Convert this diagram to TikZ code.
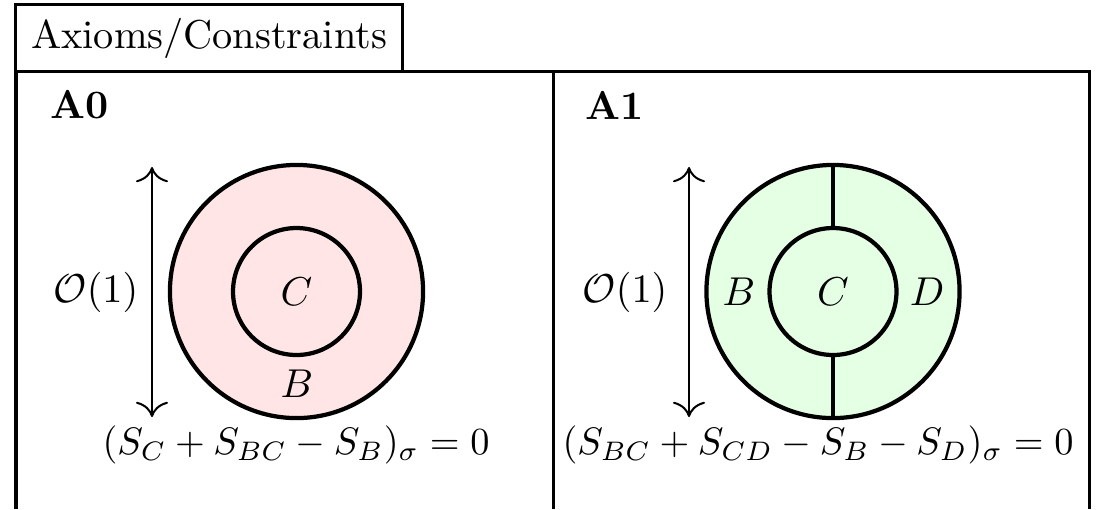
\documentclass[tikz,border=0pt]{standalone}
\usetikzlibrary{arrows.meta}
\definecolor{pinkfill}{RGB}{255,229,229}
\definecolor{greenfill}{RGB}{229,255,229}
\begin{document}
\begin{tikzpicture}[x=0.2481pt,y=-0.2481pt,
  frame/.style={line width=0.75pt},
  ring/.style={line width=1.05pt},
  sizearrow/.style={{To[scale=1.4]}-{To[scale=1.4]},line width=0.5pt},
  lbl/.style={inner sep=0pt},
  eqlbl/.style={inner sep=0pt,scale=0.95}]
\useasboundingbox (0,0) rectangle (1100,509);
% title
\node[draw,frame,minimum width=95.8pt,minimum height=16.4pt,inner sep=0pt] (title) at (209,38) {Axioms/Constraints};
% frame
\coordinate (fl) at (16,509);
\coordinate (ftl) at (16,71);
\coordinate (ftr) at (1089,71);
\coordinate (fr) at (1089,509);
\coordinate (mt) at (553,71);
\coordinate (mb) at (553,509);
\draw[frame] (fl) -- (ftl) -- (ftr) -- (fr);
\draw[frame] (mt) -- (mb);
% A0
\node[lbl] (a0) at (80,105) {\textbf{A0}};
\coordinate (c0) at (296.5,291.5);
\fill[pinkfill] (c0) circle[radius=31.4pt];
\draw[ring] (c0) circle[radius=31.4pt];
\draw[ring] (c0) circle[radius=15.75pt];
\node[lbl] (C0) at (c0) {$C$};
\node[lbl] (B0) at (297,384) {$B$};
\coordinate (ar0t) at (152,167);
\coordinate (ar0b) at (152,417);
\draw[sizearrow] (ar0t) -- (ar0b);
\node[lbl] (o0) at (96,292) {$\mathcal{O}(1)$};
\node[eqlbl] (eq0) at (296,445) {$(S_C+S_{BC}-S_B)_\sigma=0$};
% A1
\node[lbl] (a1) at (615,105) {\textbf{A1}};
\coordinate (c1) at (833,291.5);
\fill[greenfill] (c1) circle[radius=31.4pt];
\draw[ring] (c1) circle[radius=31.4pt];
\draw[ring] (c1) circle[radius=15.75pt];
\draw[ring] ([yshift=15.75pt]c1) -- ([yshift=31.4pt]c1);
\draw[ring] ([yshift=-15.75pt]c1) -- ([yshift=-31.4pt]c1);
\node[lbl] (C1) at (c1) {$C$};
\node[lbl] (B1) at (739,292) {$B$};
\node[lbl] (D1) at (927,292) {$D$};
\coordinate (ar1t) at (689,167);
\coordinate (ar1b) at (689,417);
\draw[sizearrow] (ar1t) -- (ar1b);
\node[lbl] (o1) at (625,292) {$\mathcal{O}(1)$};
\node[eqlbl] (eq1) at (818,445) {$(S_{BC}+S_{CD}-S_B-S_D)_\sigma=0$};
\end{tikzpicture}
\end{document}
